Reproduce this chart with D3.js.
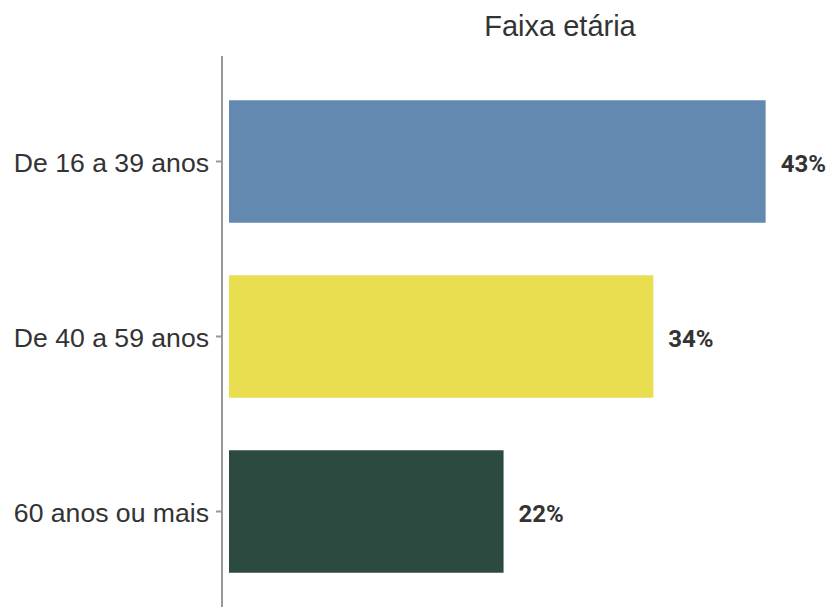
<!DOCTYPE html>
<html>
<head>
<meta charset="utf-8">
<script src="https://cdn.jsdelivr.net/npm/d3@7"></script>
<style>
  body { margin: 0; background: #fff; }
  svg { display: block; }
</style>
</head>
<body>
<script>
const categories = ["De 16 a 39 anos", "De 40 a 59 anos", "60 anos ou mais"];
const values = [43, 34, 22];
const valueLabels = ["43%", "34%", "22%"];
const colors = ["#6489b1", "#e8de50", "#2c4a3f"];
const title = "Faixa etária";

const width = 832, height = 607;

const svg = d3.select("body").append("svg")
    .attr("width", width)
    .attr("height", height);

const y = d3.scaleBand()
    .domain(categories)
    .range([74, 599])
    .paddingInner(0.3)
    .paddingOuter(0.15);

const x = d3.scaleLinear()
    .domain([0, 45])
    .range([229, 229 + 12.48 * 45]);

svg.append("text")
    .attr("x", 560)
    .attr("y", 36)
    .attr("text-anchor", "middle")
    .attr("font-family", "Liberation Sans, Arial, sans-serif")
    .attr("font-size", 29)
    .attr("fill", "#333")
    .text(title);

// axis
const axis = svg.append("g")
    .attr("transform", "translate(222,0)")
    .call(d3.axisLeft(y).tickSize(6).tickPadding(7));
axis.select(".domain").remove();
axis.selectAll(".tick line").attr("stroke", "#999").attr("stroke-width", 2);
axis.selectAll(".tick text")
    .attr("dy", "0.4em")
    .attr("font-family", "Liberation Sans, Arial, sans-serif")
    .attr("font-size", 26.6)
    .attr("fill", "#333");

svg.append("line")
    .attr("x1", 222).attr("x2", 222)
    .attr("y1", 56).attr("y2", height)
    .attr("stroke", "#999")
    .attr("stroke-width", 2);

svg.selectAll("rect.bar")
    .data(values)
    .enter()
    .append("rect")
    .attr("class", "bar")
    .attr("x", x(0))
    .attr("y", (d, i) => y(categories[i]))
    .attr("width", d => x(d) - x(0))
    .attr("height", y.bandwidth())
    .attr("fill", (d, i) => colors[i]);

svg.selectAll("text.val")
    .data(values)
    .enter()
    .append("text")
    .attr("class", "val")
    .attr("x", d => x(d) + 15)
    .attr("y", (d, i) => y(categories[i]) + y.bandwidth() / 2)
    .attr("dy", "0.45em")
    .attr("font-family", "Roboto, sans-serif")
    .attr("font-weight", "bold")
    .attr("font-size", 24)
    .attr("fill", "#333")
    .text((d, i) => valueLabels[i]);
</script>
</body>
</html>
